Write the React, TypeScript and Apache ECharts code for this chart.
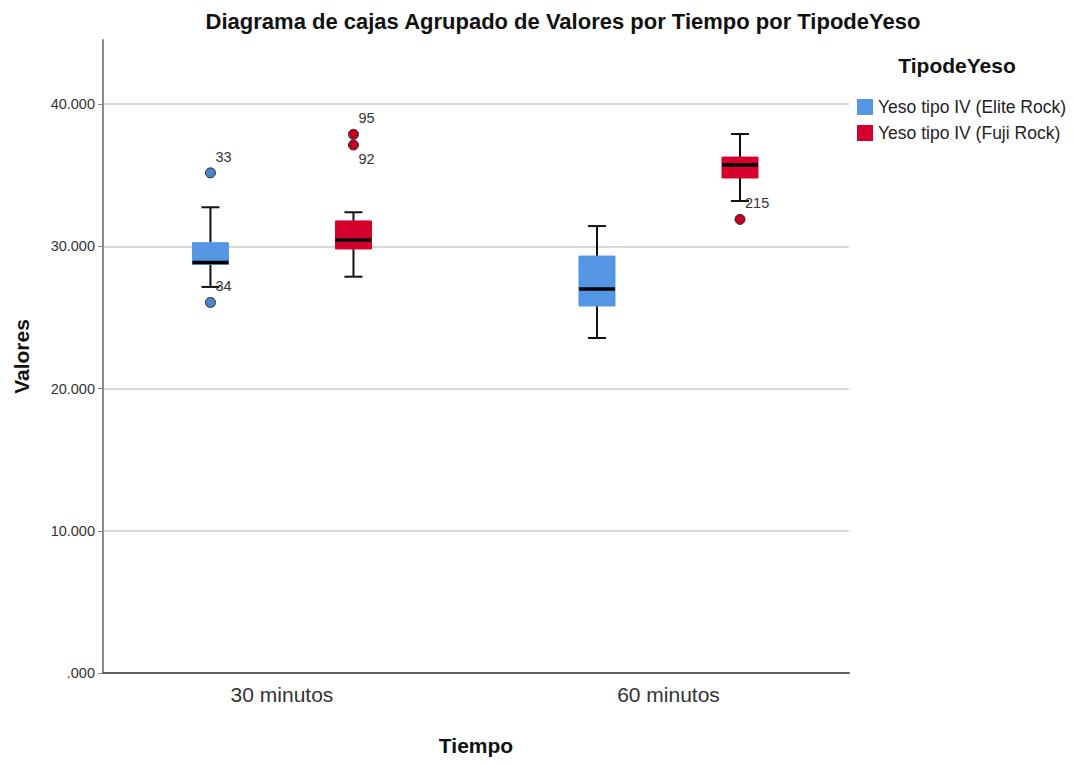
import React, { useEffect, useRef } from "react";
import * as echarts from "echarts";

// ---------- data ----------
const categories = ["30 minutos", "60 minutos"];
const groups = ["Yeso tipo IV (Elite Rock)", "Yeso tipo IV (Fuji Rock)"];
// [categoryIndex, min, Q1, median, Q3, max]
const eliteBoxes = [
  [0, 27140, 28730, 28860, 30250, 32740],
  [1, 23550, 25800, 27000, 29310, 31420],
];
const fujiBoxes = [
  [0, 27860, 29810, 30440, 31780, 32390],
  [1, 33180, 34800, 35710, 36270, 37890],
];
// [categoryIndex, value, case label, label placement]
const eliteOutliers: [number, number, string, string][] = [
  [0, 35160, "33", "above"],
  [0, 26050, "34", "above"],
];
const fujiOutliers: [number, number, string, string][] = [
  [0, 37870, "95", "above"],
  [0, 37120, "92", "below"],
  [1, 31890, "215", "above"],
];
const yTicks = [0, 10000, 20000, 30000, 40000];
const yMin = 0;
const yMax = 44500;
const yInterval = 10000;

// ---------- styles ----------
const FONT = '"Liberation Sans", Arial, sans-serif';
const BLUE = "#5496E4";
const RED = "#D5002C";
const BLUE_DOT = "#4C83CB";
const RED_DOT = "#C4001F";
const OFFSET = 0.185; // group offset in category units
const BOX_HALF = 0.0466;
const CAP_HALF = 0.0233;

const boxRenderer = (offset: number, color: string) => (params: any, api: any) => {
  const c = api.value(0) + offset;
  const vMin = api.value(1);
  const q1 = api.value(2);
  const med = api.value(3);
  const q3 = api.value(4);
  const vMax = api.value(5);
  const xc = api.coord([c, vMin])[0];
  const xl = api.coord([c - BOX_HALF, vMin])[0];
  const xr = api.coord([c + BOX_HALF, vMin])[0];
  const cl = api.coord([c - CAP_HALF, vMin])[0];
  const cr = api.coord([c + CAP_HALF, vMin])[0];
  const yMinP = api.coord([c, vMin])[1];
  const yQ1 = api.coord([c, q1])[1];
  const yMed = api.coord([c, med])[1];
  const yQ3 = api.coord([c, q3])[1];
  const yMaxP = api.coord([c, vMax])[1];
  const lineStyle = { stroke: "#111", lineWidth: 2 };
  return {
    type: "group",
    children: [
      { type: "line", shape: { x1: xc, y1: yMaxP, x2: xc, y2: yQ3 }, style: lineStyle },
      { type: "line", shape: { x1: xc, y1: yQ1, x2: xc, y2: yMinP }, style: lineStyle },
      { type: "line", shape: { x1: cl, y1: yMaxP, x2: cr, y2: yMaxP }, style: lineStyle },
      { type: "line", shape: { x1: cl, y1: yMinP, x2: cr, y2: yMinP }, style: lineStyle },
      {
        type: "rect",
        shape: { x: xl, y: yQ3, width: xr - xl, height: yQ1 - yQ3 },
        style: { fill: color, stroke: color, lineWidth: 1 },
      },
      {
        type: "line",
        shape: { x1: xl, y1: yMed, x2: xr, y2: yMed },
        style: { stroke: "#000", lineWidth: 3.5 },
      },
    ],
  };
};

const outlierRenderer =
  (offset: number, list: [number, number, string, string][], fill: string) =>
  (params: any, api: any) => {
    const item = list[params.dataIndex];
    const c = api.value(0) + offset;
    const p = api.coord([c, api.value(1)]);
    const below = item[3] === "below";
    return {
      type: "group",
      children: [
        {
          type: "circle",
          shape: { cx: p[0], cy: p[1], r: 5 },
          style: { fill, stroke: "#2a2a3a", lineWidth: 1 },
        },
        {
          type: "text",
          x: p[0] + 5,
          y: p[1] + (below ? 14 : -16),
          style: {
            text: item[2],
            fill: "#333",
            font: `14.5px ${FONT}`,
            align: "left",
            verticalAlign: "middle",
          },
        },
      ],
    };
  };

const yLabel = (v: number) => (v === 0 ? ".000" : `${Math.round(v / 1000)}.000`);

export default function App() {
  const ref = useRef<HTMLDivElement>(null);
  useEffect(() => {
    if (!ref.current) return;
    const chart = echarts.init(ref.current, undefined, { renderer: "svg" });
    const option: any = {
      animation: false,
      backgroundColor: "#ffffff",
      color: [BLUE, RED],
      textStyle: { fontFamily: FONT },
      grid: { left: 103, right: 224, top: 40, bottom: 92, containLabel: false },
      xAxis: {
        type: "value",
        min: -0.463,
        max: 1.467,
        axisLine: { show: true, onZero: false, lineStyle: { color: "#5f5f5f", width: 2 } },
        axisTick: { show: false },
        splitLine: { show: false },
        axisLabel: {
          customValues: [0, 1],
          formatter: (v: number) => categories[Math.round(v)] ?? "",
          fontSize: 21,
          color: "#333",
          margin: 11,
          fontFamily: FONT,
        },
        name: "Tiempo",
        nameLocation: "middle",
        nameGap: 62,
        nameTextStyle: { fontSize: 21, fontWeight: "bold", color: "#111", fontFamily: FONT },
      },
      yAxis: {
        type: "value",
        min: yMin,
        max: yMax,
        interval: yInterval,
        axisLine: { show: true, onZero: false, lineStyle: { color: "#8a8a8a", width: 2 } },
        axisTick: {
          show: true,
          length: 5,
          customValues: yTicks,
          lineStyle: { color: "#8a8a8a", width: 1 },
        },
        splitLine: {
          show: true,
          lineStyle: { color: "#cbcbcb", width: 1.5 },
        },
        axisLabel: {
          customValues: yTicks,
          formatter: yLabel,
          fontSize: 14.5,
          color: "#333",
          margin: 8,
          padding: [5, 0, 0, 0],
          fontFamily: FONT,
        },
        name: "Valores",
        nameLocation: "middle",
        nameGap: 71,
        nameTextStyle: { fontSize: 21, fontWeight: "bold", color: "#111", fontFamily: FONT },
      },
      legend: {
        data: groups,
        orient: "vertical",
        left: 852,
        top: 93,
        itemWidth: 16,
        itemHeight: 16,
        itemGap: 8,
        icon: "rect",
        textStyle: { fontSize: 17.5, color: "#222", lineHeight: 18, fontFamily: FONT },
      },
      graphic: [
        {
          type: "text",
          x: 563,
          y: 21,
          style: {
            text: "Diagrama de cajas Agrupado de Valores por Tiempo por TipodeYeso",
            font: `bold 22px ${FONT}`,
            fill: "#111",
            align: "center",
            verticalAlign: "middle",
          },
        },
        {
          type: "text",
          x: 957,
          y: 65,
          style: {
            text: "TipodeYeso",
            font: `bold 21px ${FONT}`,
            fill: "#111",
            align: "center",
            verticalAlign: "middle",
          },
        },
      ],
      series: [
        {
          type: "custom",
          name: groups[0],
          renderItem: boxRenderer(-OFFSET, BLUE),
          data: eliteBoxes,
          encode: { x: 0, y: [1, 2, 3, 4, 5] },
          itemStyle: { color: BLUE },
          z: 2,
        },
        {
          type: "custom",
          name: groups[1],
          renderItem: boxRenderer(OFFSET, RED),
          data: fujiBoxes,
          encode: { x: 0, y: [1, 2, 3, 4, 5] },
          itemStyle: { color: RED },
          z: 2,
        },
        {
          type: "custom",
          name: groups[0],
          renderItem: outlierRenderer(-OFFSET, eliteOutliers, BLUE_DOT),
          data: eliteOutliers.map((o) => [o[0], o[1]]),
          encode: { x: 0, y: 1 },
          itemStyle: { color: BLUE },
          z: 3,
        },
        {
          type: "custom",
          name: groups[1],
          renderItem: outlierRenderer(OFFSET, fujiOutliers, RED_DOT),
          data: fujiOutliers.map((o) => [o[0], o[1]]),
          encode: { x: 0, y: 1 },
          itemStyle: { color: RED },
          z: 3,
        },
      ],
    };
    chart.setOption(option);
    return () => chart.dispose();
  }, []);
  return (
    <div
      ref={ref}
      style={{ position: "fixed", left: 0, top: 0, width: 1073, height: 765, background: "#fff" }}
    />
  );
}
